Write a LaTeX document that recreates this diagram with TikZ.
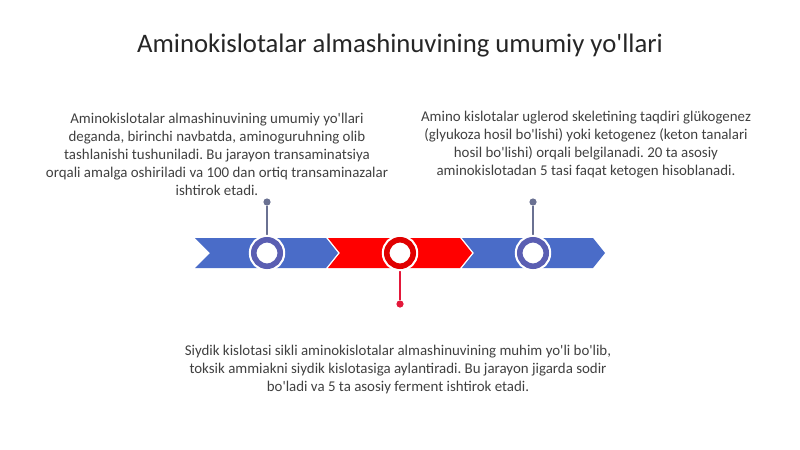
\documentclass[tikz,border=0pt]{standalone}
\usepackage{fontspec}
\setmainfont{Carlito}[Ligatures=TeXOff]
\usetikzlibrary{positioning}
\definecolor{bandblue}{HTML}{4A6CC8}
\definecolor{ringblue}{HTML}{5A5EB2}
\definecolor{stemgray}{HTML}{6A7192}
\definecolor{stemred}{HTML}{E3183A}
\definecolor{textgray}{HTML}{404040}
\frenchspacing

\begin{document}
\begin{tikzpicture}[x=0.025cm, y=-0.025cm,
    para/.style={align=center, text=textgray, font=\fontsize{10.6}{12.8}\selectfont, inner sep=0pt},
    ring/.style={circle, inner sep=0pt, minimum size=0.66cm, line width=0.14cm, draw=#1, fill=white,
      preaction={draw=white, line width=0.25cm}},
    pin/.style={circle, inner sep=0pt, minimum size=0.18cm, fill=#1}]
  \useasboundingbox (0,0) rectangle (800,449);

  % title
  \node[text=black!85, font=\fontsize{19}{22}\selectfont] (title) at (400,46) {Aminokislotalar almashinuvining umumiy yo'llari};

  % chevron band
  \fill[bandblue] (195,238) -- (326,238) -- (338,253) -- (326,268) -- (195,268) -- (210,253) -- cycle;
  \fill[red] (328,238) -- (460,238) -- (472,253) -- (460,268) -- (328,268) -- (340,253) -- cycle;
  \fill[bandblue] (462,238) -- (593,238) -- (605,253) -- (593,268) -- (462,268) -- (474,253) -- cycle;

  % rings and pins
  \node[pin=stemgray] (pinA) at (267,202) {};
  \node[pin=stemred] (pinB) at (400,304) {};
  \node[pin=stemgray] (pinC) at (533,202) {};
  \draw[stemgray, line width=0.04cm] (pinA) -- (267,253);
  \draw[stemred, line width=0.04cm] (pinB) -- (400,253);
  \draw[stemgray, line width=0.04cm] (pinC) -- (533,253);
  \node[ring=ringblue] (ringA) at (267,253) {};
  \node[ring=red!88!black] (ringB) at (400,253) {};
  \node[ring=ringblue] (ringC) at (533,253) {};

  % texts
  \node[para] (textA) at (217,154) {Aminokislotalar almashinuvining umumiy yo'llari\\
    deganda, birinchi navbatda, aminoguruhning olib\\
    tashlanishi tushuniladi. Bu jarayon transaminatsiya\\
    orqali amalga oshiriladi va 100 dan ortiq transaminazalar\\
    ishtirok etadi.};
  \node[para] (textC) at (586,145) {Amino kislotalar uglerod skeletining taqdiri glükogenez\\
    (glyukoza hosil bo'lishi) yoki ketogenez (keton tanalari\\
    hosil bo'lishi) orqali belgilanadi. 20 ta asosiy\\
    aminokislotadan 5 tasi faqat ketogen hisoblanadi.};
  \node[para] (textB) at (398,370) {Siydik kislotasi sikli aminokislotalar almashinuvining muhim yo'li bo'lib,\\
    toksik ammiakni siydik kislotasiga aylantiradi. Bu jarayon jigarda sodir\\
    bo'ladi va 5 ta asosiy ferment ishtirok etadi.};
\end{tikzpicture}
\end{document}
